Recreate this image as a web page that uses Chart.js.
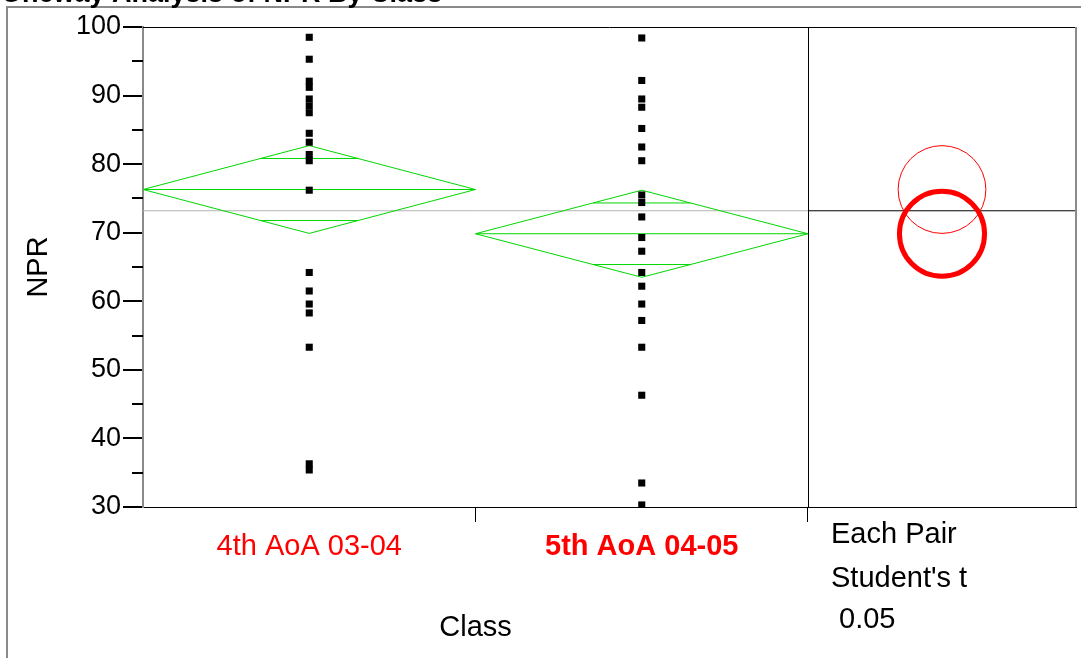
<!DOCTYPE html>
<html>
<head>
<meta charset="utf-8">
<script src="https://cdn.jsdelivr.net/npm/chart.js@4.4.1/dist/chart.umd.min.js"></script>
<style>
  html, body { margin: 0; padding: 0; background: #fff; }
  #wrap { position: relative; width: 1081px; height: 658px; }
</style>
</head>
<body>
<div id="wrap"><canvas id="chart" width="1081" height="658"></canvas></div>
<script>
/* oneway analysis of NPR by class — means diamonds + comparison circles */

const chartTitle = 'Oneway Analysis of NPR By Class';
const classes = ['4th AoA 03-04', '5th AoA 04-05'];
const npr4th = [98.5, 95.3, 92.1, 91.2, 89.5, 88.5, 87.5, 84.5, 83.2, 81.4, 80.5,
                76.2, 64.2, 61.5, 59.6, 58.3, 53.3, 36.3, 35.4];
const npr5th = [98.4, 92.2, 89.5, 88.3, 85.2, 82.5, 80.5, 75.5, 74.4, 72.3, 69.3,
                67.3, 64.2, 62.2, 59.6, 57.2, 53.3, 46.3, 33.5, 30.3];
const classMeans = [76.3, 69.85];
const ciHalf = [6.4, 6.35];        // 95% CI half width (diamond / circle radius)
const grandMean = 73.2;
const selectedClass = 1;           // bold label, thick circle
const yTicks = [30, 40, 50, 60, 70, 80, 90, 100];
const yMinorTicks = [35, 45, 55, 65, 75, 85, 95];
const compareText = ['Each Pair', "Student's t", ' 0.05'];

const GREEN = 'rgb(0, 215, 0)';
const RED = '#ff0000';
const FONT = "'Liberation Sans', Arial, sans-serif";
const PANEL_W = 268 / 332.5;       // comparison panel, in category units
const X_MAX = classes.length + PANEL_W;

function lineSet(points, color, width, extra = {}) {
  return Object.assign({
    type: 'line', data: points, borderColor: color, borderWidth: width,
    pointRadius: 0, fill: false, tension: 0, showLine: true,
  }, extra);
}

const datasets = [];

// raw points (first = drawn on top)
datasets.push({
  type: 'scatter',
  data: [
    ...npr4th.map((v) => ({ x: 0.5, y: v })),
    ...npr5th.map((v) => ({ x: 1.5, y: v })),
  ],
  pointStyle: 'rect', pointRadius: 5, pointBorderWidth: 0,
  backgroundColor: '#000', borderColor: '#000',
});

// means diamonds
classMeans.forEach((m, i) => {
  const h = ciHalf[i];
  datasets.push(lineSet([
    { x: i, y: m }, { x: i + 0.5, y: m + h }, { x: i + 1, y: m },
    { x: i + 0.5, y: m - h }, { x: i, y: m },
  ], GREEN, 1));
  datasets.push(lineSet([{ x: i, y: m }, { x: i + 1, y: m }], GREEN, 1));
  // overlap marks at mean +/- h/sqrt(2), ending on the diamond edges
  const d = h / Math.SQRT2;
  const hl = 0.5 * (1 - d / h);
  datasets.push(lineSet([{ x: i + 0.5 - hl, y: m + d }, { x: i + 0.5 + hl, y: m + d }], GREEN, 1));
  datasets.push(lineSet([{ x: i + 0.5 - hl, y: m - d }, { x: i + 0.5 + hl, y: m - d }], GREEN, 1));
});

// grand mean
datasets.push(lineSet([{ x: classes.length, y: grandMean }, { x: X_MAX, y: grandMean }], '#000', 1));
datasets.push(lineSet([{ x: 0, y: grandMean }, { x: classes.length, y: grandMean }], '#b4b4b4', 1));

const decorPlugin = {
  id: 'decor',
  beforeDraw(chart) {
    const ctx = chart.ctx;
    ctx.save();
    ctx.fillStyle = '#fff';
    ctx.fillRect(0, 0, chart.width, chart.height);
    // outer frame
    ctx.strokeStyle = '#8a8a8a';
    ctx.lineWidth = 2;
    ctx.strokeRect(7, 7, chart.width + 20, chart.height + 20);
    // clipped title
    ctx.fillStyle = '#000';
    ctx.font = `bold 27px ${FONT}`;
    ctx.textBaseline = 'alphabetic';
    ctx.fillText(chartTitle, 1, 2);
    ctx.restore();
  },
  afterDraw(chart) {
    const { ctx, chartArea: a } = chart;
    const xs = chart.scales.x, ys = chart.scales.y;
    ctx.save();
    // frame lines
    ctx.strokeStyle = '#000';
    ctx.lineWidth = 1;
    ctx.beginPath();
    ctx.moveTo(a.left, a.top + 0.5); ctx.lineTo(a.right, a.top + 0.5);
    const xd = Math.round(xs.getPixelForValue(classes.length)) + 0.5;
    ctx.moveTo(xd, a.top); ctx.lineTo(xd, a.bottom);
    ctx.stroke();
    ctx.strokeStyle = '#8a8a8a';
    ctx.lineWidth = 2;
    ctx.beginPath();
    ctx.moveTo(a.right, a.top); ctx.lineTo(a.right, a.bottom);
    ctx.stroke();
    // minor y ticks
    ctx.strokeStyle = '#000';
    ctx.lineWidth = 2;
    ctx.beginPath();
    yMinorTicks.forEach((v) => {
      const y = Math.round(ys.getPixelForValue(v));
      ctx.moveTo(a.left - 11, y); ctx.lineTo(a.left, y);
    });
    ctx.stroke();
    // comparison circles
    const cx = xs.getPixelForValue((classes.length + X_MAX) / 2);
    classMeans.forEach((m, i) => {
      const cy = ys.getPixelForValue(m);
      const r = ys.getPixelForValue(m - ciHalf[i]) - cy;
      ctx.beginPath();
      ctx.strokeStyle = RED;
      ctx.lineWidth = i === selectedClass ? 5 : 1;
      ctx.arc(cx, cy, i === selectedClass ? r - 1 : r, 0, Math.PI * 2);
      ctx.stroke();
    });
    // texts
    ctx.fillStyle = '#000';
    ctx.font = `29px ${FONT}`;
    ctx.textBaseline = 'middle';
    ctx.textAlign = 'center';
    ctx.fillText('Class', xs.getPixelForValue(classes.length / 2), 628);
    ctx.textAlign = 'left';
    const px = xs.getPixelForValue(classes.length) + 23;
    [535, 579, 620].forEach((y, i) => ctx.fillText(compareText[i], px, y));
    ctx.restore();
  },
};

new Chart(document.getElementById('chart'), {
  data: { datasets },
  options: {
    responsive: false,
    animation: false,
    devicePixelRatio: 1,
    layout: { padding: { top: 27, right: 5, left: 0, bottom: 0 } },
    plugins: { legend: { display: false }, tooltip: { enabled: false } },
    scales: {
      x: {
        type: 'linear', min: 0, max: X_MAX,
        afterBuildTicks: (s) => { s.ticks = [0.5, 1, 1.5, 2].map((v) => ({ value: v })); },
        afterFit: (s) => { s.height = 151; },
        grid: {
          display: true, drawOnChartArea: false, drawTicks: true, tickLength: 15, lineWidth: 1,
          color: (c) => (c.tick && Number.isInteger(c.tick.value) ? '#000' : 'rgba(0,0,0,0)'),
        },
        border: { display: true, color: '#000', width: 1 },
        ticks: {
          autoSkip: false, maxRotation: 0, minRotation: 0, padding: 8, color: RED,
          font: (c) => ({
            family: FONT, size: 29,
            weight: c.tick && c.tick.value === selectedClass + 0.5 ? 'bold' : 'normal',
          }),
          callback: (v) => (v === 0.5 ? classes[0] : v === 1.5 ? classes[1] : ''),
        },
      },
      y: {
        type: 'linear', min: yTicks[0], max: yTicks[yTicks.length - 1],
        afterBuildTicks: (s) => { s.ticks = yTicks.map((v) => ({ value: v })); },
        afterFit: (s) => { s.width = 143; },
        grid: { display: true, drawOnChartArea: false, drawTicks: true, tickLength: 20, color: '#000', lineWidth: 2 },
        border: { display: true, color: '#8a8a8a', width: 2 },
        ticks: { color: '#000', padding: 2, font: { family: FONT, size: 27 } },
        title: {
          display: true, text: 'NPR', color: '#000',
          font: { family: FONT, size: 29 }, padding: { top: 22, bottom: 0 },
        },
      },
    },
  },
  plugins: [decorPlugin],
});
</script>
</body>
</html>
